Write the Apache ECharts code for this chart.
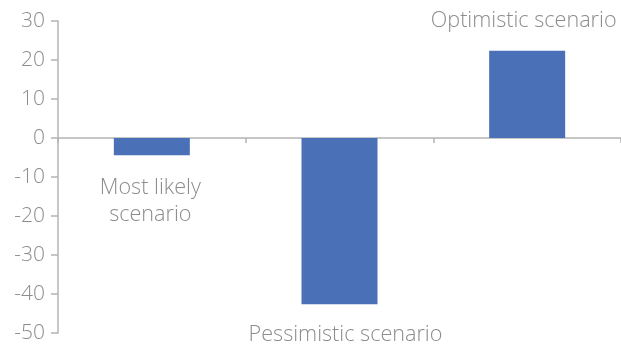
<!DOCTYPE html>
<html>
<head>
<meta charset="utf-8">
<script src="https://cdn.jsdelivr.net/npm/echarts@6/dist/echarts.min.js"></script>
<style>
  html, body { margin: 0; padding: 0; background: #fff; }
  #chart { width: 621px; height: 349px; }
</style>
</head>
<body>
<div id="chart"></div>
<script>
// Scenario outcomes
const categories = ['Most likely\nscenario', 'Pessimistic scenario', 'Optimistic scenario'];
const values = [-4.4, -42.6, 22.4];
const yTicks = { min: -50, max: 30, interval: 10 };

const textColor = '#8c8c8c';
const axisColor = '#b4b4b4';
const font = '"Open Sans", "Noto Sans", sans-serif';

// Where each category's label sits relative to its bar
const labelPlacement = [
  { position: 'bottom', distance: 19, offset: [-1.5, 0] },
  { position: 'bottom', distance: 17, offset: [6, 0] },
  { position: 'top', distance: 16, offset: [-3.5, 0] }
];

const chart = echarts.init(document.getElementById('chart'));
chart.setOption({
  animation: false,
  grid: { left: 58, right: 0, top: 21, bottom: 16, containLabel: false },
  xAxis: {
    type: 'category',
    data: categories,
    axisLine: { onZero: true, lineStyle: { color: axisColor, width: 1.5 } },
    axisTick: { show: true, length: 5, lineStyle: { color: axisColor, width: 1.5 } },
    axisLabel: { show: false }
  },
  yAxis: {
    type: 'value',
    min: yTicks.min, max: yTicks.max, interval: yTicks.interval,
    splitLine: { show: false },
    axisLine: { show: true, lineStyle: { color: axisColor, width: 1.5 } },
    axisTick: { show: true, length: 7, lineStyle: { color: axisColor, width: 1.5 } },
    axisLabel: { color: textColor, fontSize: 21, fontWeight: 300, fontFamily: font, margin: 13 }
  },
  series: [{
    type: 'bar',
    barWidth: 76,
    itemStyle: { color: '#4a70b7' },
    data: values.map((v, i) => ({
      value: v,
      label: {
        show: true,
        position: labelPlacement[i].position,
        distance: labelPlacement[i].distance,
        offset: labelPlacement[i].offset,
        formatter: () => categories[i],
        color: textColor,
        fontSize: 21.6,
        fontWeight: 300,
        lineHeight: 27,
        fontFamily: font,
        align: 'center'
      }
    }))
  }]
});
</script>
</body>
</html>
